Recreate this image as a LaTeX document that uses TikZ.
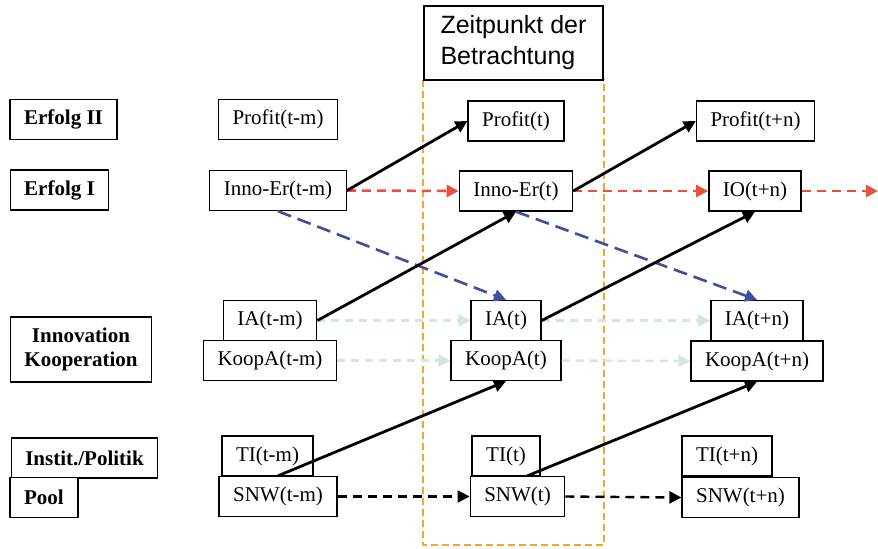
\documentclass[tikz,border=0pt]{standalone}
\usepackage{fontspec}
\setmainfont{Liberation Serif}
\newfontfamily\headfont{Liberation Sans}
\usetikzlibrary{arrows.meta}

\definecolor{redline}{HTML}{E8503F}
\definecolor{blueline}{HTML}{3F4FA0}
\definecolor{tealline}{HTML}{D3E5E5}
\definecolor{orangeline}{HTML}{F2A72A}

\begin{document}
\begin{tikzpicture}[x=0.5pt, y=-0.5pt,
    cell/.style={draw, line width=0.7pt, fill=white, inner xsep=7pt, minimum height=20pt, font=\fontsize{10.5}{12}\selectfont},
    rowlabel/.style={cell, font=\fontsize{10.5}{12}\selectfont\bfseries, align=center},
    tip/.style={-{Triangle[length=6pt, width=6pt]}},
    solidarr/.style={tip, line width=1.4pt},
    redarr/.style={tip, redline, line width=1.3pt, dash pattern=on 4.5pt off 3pt},
    bluearr/.style={tip, blueline, line width=1.3pt, dash pattern=on 7pt off 3.5pt},
    tealarr/.style={tip, tealline, line width=1.2pt, dash pattern=on 4pt off 3pt},
    blackarr/.style={tip, line width=1.2pt, dash pattern=on 4.5pt off 3pt}]
    \useasboundingbox (0,0) rectangle (878,548);

    % zeitpunkt frame
    \draw[orangeline, line width=1pt, dash pattern=on 3.5pt off 2pt] (423,80) rectangle (604,545);
    \node[draw, line width=0.7pt, fill=white, minimum width=89.5pt, minimum height=37pt, align=left,
          font=\headfont\fontsize{12.5}{15.5}\selectfont] (zeit) at (513.5,43) {Zeitpunkt der\\Betrachtung};

    % row labels
    \node[rowlabel] (erf2) at (63.5,119.5) {Erfolg II};
    \node[rowlabel] (erf1) at (59.5,190) {Erfolg I};
    \node[rowlabel, minimum height=32.5pt] (innok) at (81,349.5) {Innovation\\Kooperation};
    \node[rowlabel] (instit) at (84.5,458) {Instit./Politik};
    \node[rowlabel] (pool) at (44,497.5) {Pool};

    % column t-m
    \node[cell] (profm) at (278,119.5) {Profit(t-m)};
    \node[cell] (innom) at (278,190.5) {Inno-Er(t-m)};
    \node[cell] (iam) at (270,320.5) {IA(t-m)};
    \node[cell] (koopm) at (270,360.5) {KoopA(t-m)};
    \node[cell] (tim) at (267.5,456) {TI(t-m)};
    \node[cell] (snwm) at (278,496.5) {SNW(t-m)};

    % column t
    \node[cell] (proft) at (516,121) {Profit(t)};
    \node[cell] (innot) at (516,191) {Inno-Er(t)};
    \node[cell] (iat) at (506,320.5) {IA(t)};
    \node[cell] (koopt) at (506,360.5) {KoopA(t)};
    \node[cell] (tit) at (506,456) {TI(t)};
    \node[cell] (snwt) at (517.5,496.5) {SNW(t)};

    % column t+n
    \node[cell] (profn) at (755.5,121) {Profit(t+n)};
    \node[cell] (ion) at (755,191) {IO(t+n)};
    \node[cell] (ian) at (757,320.5) {IA(t+n)};
    \node[cell] (koopn) at (757,361) {KoopA(t+n)};
    \node[cell] (tin) at (727,456) {TI(t+n)};
    \node[cell] (snwn) at (740.5,497.5) {SNW(t+n)};
    \coordinate (redend) at (878,191);

    % horizontal dashed arrows
    \draw[redarr] (innom.east) -- (innot.west);
    \draw[redarr] (innot.east) -- (ion.west);
    \draw[redarr] (ion.east) -- (redend);
    \draw[tealarr] (iam.east) -- (iat.west);
    \draw[tealarr] (iat.east) -- (ian.west);
    \draw[tealarr] (koopm.east) -- (koopt.west);
    \draw[tealarr] (koopt.east) -- (koopn.west);
    \draw[blackarr] (snwm.east) -- (snwt.west);
    \draw[blackarr] (snwt.east) -- (snwn.west);

    % diagonal arrows
    \draw[bluearr] (innom.south) -- (iat.north);
    \draw[bluearr] (innot.south) -- (ian.north);
    \draw[solidarr] (innom.east) -- (proft.west);
    \draw[solidarr] (innot.east) -- (profn.west);
    \draw[solidarr] (iam.east) -- (innot.south);
    \draw[solidarr] (iat.east) -- (ion.south);
    \draw[solidarr] (snwm.north) -- (koopt.south);
    \draw[solidarr] ([xshift=5pt]snwt.north) -- (koopn.south);
  \end{tikzpicture}
\end{document}
